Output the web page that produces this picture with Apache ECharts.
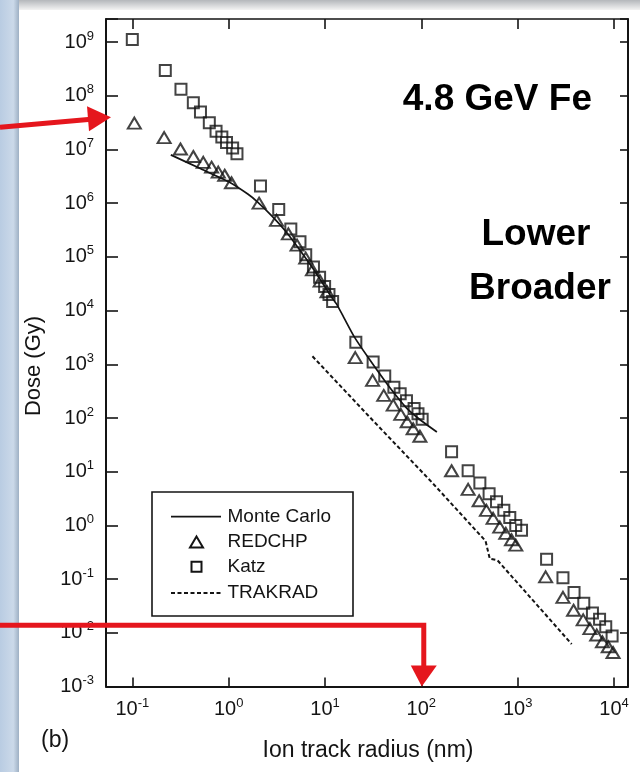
<!DOCTYPE html>
<html>
<head>
<meta charset="utf-8">
<style>
  html, body { margin: 0; padding: 0; background: #fff; }
  #main { width: 640px; height: 772px; }
</style>
<script src="https://cdn.jsdelivr.net/npm/echarts@6/dist/echarts.min.js"></script>
</head>
<body>
<div id="main"></div>
<script>
// 4.8 GeV Fe: radial dose vs ion track radius
// radius in nm, dose in Gy

var katzRadius = [0.10, 0.22, 0.32, 0.43, 0.51, 0.63, 0.74, 0.85, 0.95, 1.10, 1.22,
    2.14, 3.31, 4.42, 5.50, 6.31, 7.59, 8.79, 9.91, 11.0, 12.0,
    20.9, 31.6, 41.7, 51.9, 60.3, 70.1, 84.1, 92.3, 102,
    206, 306, 405, 505, 603, 718, 828, 955, 1096,
    1995, 2951, 3846, 4853, 5970, 7079, 8204, 9550];
var katzDose = [1.12e9, 2.95e8, 1.32e8, 7.4e7, 5.0e7, 3.16e7, 2.19e7, 1.7e7, 1.35e7, 1.07e7, 8.3e6,
    2.09e6, 7.6e5, 3.31e5, 1.91e5, 1.10e5, 6.46e4, 4.17e4, 2.82e4, 2.0e4, 1.48e4,
    2570, 1100, 603, 372, 282, 209, 151, 120, 95,
    23.4, 10.4, 6.17, 3.89, 2.75, 1.91, 1.41, 1.0, 0.81,
    0.234, 0.106, 0.056, 0.0355, 0.0234, 0.0178, 0.0129, 0.0087];

var redchpRadius = [0.105, 0.214, 0.316, 0.43, 0.545, 0.665, 0.78, 0.91, 1.07,
    2.07, 3.14, 4.17, 5.13, 6.31, 7.41, 8.91, 10.5,
    20.6, 31.2, 40.7, 51.1, 61.2, 71.3, 82.2, 96.6,
    206, 306, 398, 474, 556, 652, 753, 863, 955,
    1950, 2951, 3802, 4786, 5623, 6607, 7586, 8710, 9772];
var redchpDose = [3.09e7, 1.66e7, 1.02e7, 7.41e6, 5.75e6, 4.68e6, 3.8e6, 3.31e6, 2.4e6,
    1.0e6, 4.79e5, 2.69e5, 1.66e5, 9.5e4, 5.75e4, 3.55e4, 2.24e4,
    1330, 501, 263, 174, 117, 85, 63, 45.7,
    10.4, 4.68, 2.88, 1.91, 1.35, 0.93, 0.71, 0.54, 0.43,
    0.110, 0.0457, 0.0263, 0.0174, 0.012, 0.0091, 0.0068, 0.0055, 0.0043];

var monteCarloRadius = [0.251, 0.501, 1.0, 1.58, 2.0, 2.82, 3.98, 5.62, 7.94, 11.2, 13.2, 15.8, 20.0, 28.2, 44.7, 70.8, 100, 145];
var monteCarloDose = [7.94e6, 4.47e6, 2.51e6, 1.48e6, 1.05e6, 5.75e5, 2.88e5, 1.26e5, 5.25e4, 2.0e4, 1.32e4, 7240, 3310, 1320, 417, 151, 89, 55];

var trakradRadius = [7.41, 31.6, 126, 464, 513, 617, 1585, 3631];
var trakradDose = [1410, 89, 6.6, 0.513, 0.24, 0.224, 0.0331, 0.00617];

var seriesNames = ['Monte Carlo', 'REDCHP', 'Katz', 'TRAKRAD'];

// axes run in decades (log10)
var xRange = [-1.273, 4.145];
var yRange = [-3, 9.43];
var xTickExp = [-1, 0, 1, 2, 3, 4];
var yTickExp = [-3, -2, -1, 0, 1, 2, 3, 4, 5, 6, 7, 8, 9];

// red annotations on the slide
var arrowDose = 3.98e7;      // left arrow points at the axis here
var guideRadius = 106;       // bent arrow goes down at this radius
var guideDose = 0.0138;      // ... coming in at this dose

var FONT = 'Liberation Sans, Arial, Helvetica, sans-serif';
var INK = '#141414';
var RED = '#e5161d';

function toLog(r, d) {
    return r.map(function (v, i) { return [Math.log10(v), Math.log10(d[i])]; });
}

function powLabel(list) {
    return function (v) {
        var e = Math.round(v);
        if (Math.abs(v - e) > 1e-6 || list.indexOf(e) < 0) return '';
        return '{b|10}{s|' + e + '}';
    };
}

var labelRich = {
    b: { fontSize: 20, lineHeight: 24, fontFamily: FONT, color: INK },
    s: { fontSize: 13, lineHeight: 12, padding: [0, 0, 12, 0], fontFamily: FONT, color: INK }
};

function axisBase(extra) {
    var a = {
        type: 'value',
        axisLine: { show: true, onZero: false, lineStyle: { color: INK, width: 2 } },
        axisTick: { show: true, inside: true, length: 10, lineStyle: { color: INK, width: 1.6 } },
        splitLine: { show: false }
    };
    return Object.assign(a, extra);
}

var chart = echarts.init(document.getElementById('main'));

var option = {
    animation: false,
    backgroundColor: '#ffffff',
    grid: { left: 106, top: 19, width: 522, height: 667.5, containLabel: false },
    xAxis: [
        axisBase({
            position: 'bottom', min: xRange[0], max: xRange[1], splitNumber: 5,
            axisTick: { show: true, inside: true, length: 9, lineStyle: { color: INK, width: 1.6 } },
            axisLabel: { margin: 11, formatter: powLabel(xTickExp), rich: labelRich }
        }),
        axisBase({
            position: 'top', min: xRange[0], max: xRange[1], splitNumber: 5,
            axisLine: { show: true, onZero: false, lineStyle: { color: INK, width: 1.6 } },
            axisLabel: { show: false }
        })
    ],
    yAxis: [
        axisBase({
            position: 'left', min: yRange[0], max: yRange[1], splitNumber: 12,
            axisTick: { show: true, inside: true, length: 12, lineStyle: { color: INK, width: 1.6 } },
            axisLabel: { margin: 12, formatter: powLabel(yTickExp), rich: labelRich }
        }),
        axisBase({
            position: 'right', min: yRange[0], max: yRange[1], splitNumber: 12,
            axisTick: { show: true, inside: true, length: 8, lineStyle: { color: INK, width: 1.6 } },
            axisLabel: { show: false }
        })
    ],
    legend: { show: false },
    series: [
        {
            name: seriesNames[0], type: 'line', data: toLog(monteCarloRadius, monteCarloDose),
            symbol: 'none', smooth: 0.2, z: 3,
            lineStyle: { color: INK, width: 1.7 }, itemStyle: { color: INK }
        },
        {
            name: seriesNames[1], type: 'scatter', data: toLog(redchpRadius, redchpDose),
            symbol: 'triangle', symbolSize: [13, 11], z: 4,
            itemStyle: { color: 'rgba(255,255,255,0)', borderColor: INK, borderWidth: 2 }
        },
        {
            name: seriesNames[2], type: 'scatter', data: toLog(katzRadius, katzDose),
            symbol: 'rect', symbolSize: 11, z: 4,
            itemStyle: { color: 'rgba(255,255,255,0)', borderColor: INK, borderWidth: 2 }
        },
        {
            name: seriesNames[3], type: 'line', data: toLog(trakradRadius, trakradDose),
            symbol: 'none', z: 3,
            lineStyle: { color: INK, width: 2, type: [4, 2.5] }, itemStyle: { color: INK }
        }
    ]
};

chart.setOption(option);

// slide decorations, texts, legend box and red arrows
var tip = chart.convertToPixel({ xAxisIndex: 0, yAxisIndex: 0 }, [xRange[0], Math.log10(arrowDose)]);
var corner = chart.convertToPixel({ xAxisIndex: 0, yAxisIndex: 0 }, [Math.log10(guideRadius), Math.log10(guideDose)]);
var axisBottom = chart.convertToPixel({ yAxisIndex: 0 }, yRange[0]);
var tipX = tip[0] + 5, tipY = tip[1];

// legend box (drawn by hand so the icons keep their shapes)
var lgX = 152, lgY = 492, lgW = 201, lgH = 124;
var rowY = [24.7, 50, 74.7, 101];
var iconX0 = 19, iconX1 = 69, textX = 75.5;
var legendKids = [
    { type: 'rect', shape: { x: 0, y: 0, width: lgW, height: lgH },
      style: { fill: '#fff', stroke: INK, lineWidth: 1.6 } },
    { type: 'line', shape: { x1: iconX0, y1: rowY[0], x2: iconX1, y2: rowY[0] },
      style: { stroke: INK, lineWidth: 1.7 } },
    { type: 'polygon', shape: { points: [[44.5, rowY[1] - 5.5], [51, rowY[1] + 5.5], [38, rowY[1] + 5.5]] },
      style: { fill: null, stroke: INK, lineWidth: 2 } },
    { type: 'rect', shape: { x: 39.5, y: rowY[2] - 5, width: 10, height: 10 },
      style: { fill: null, stroke: INK, lineWidth: 2 } },
    { type: 'line', shape: { x1: iconX0, y1: rowY[3], x2: iconX1, y2: rowY[3] },
      style: { stroke: INK, lineWidth: 2, lineDash: [4, 2.5] } }
];
seriesNames.forEach(function (n, i) {
    legendKids.push({ type: 'text',
        style: { text: n, x: textX, y: rowY[i], align: 'left', verticalAlign: 'middle',
                 font: '19px ' + FONT, fill: INK } });
});

chart.setOption({
    graphic: [
        {
            type: 'rect', z: -10, silent: true,
            shape: { x: 0, y: 0, width: 640, height: 10 },
            style: { fill: new echarts.graphic.LinearGradient(0, 0, 0, 1, [
                { offset: 0, color: '#b4b7bb' }, { offset: 1, color: '#f3f3f3' }]) }
        },
        {
            type: 'rect', z: -9, silent: true,
            shape: { x: 0, y: 0, width: 19, height: 772 },
            style: { fill: new echarts.graphic.LinearGradient(0, 0, 1, 0, [
                { offset: 0, color: '#b9cce2' }, { offset: 0.7, color: '#cbd9e9' }, { offset: 1, color: '#9eb0c4' }]) }
        },
        { type: 'group', x: lgX, y: lgY, z: 10, silent: true, children: legendKids },
        {
            type: 'text', silent: true,
            style: { text: '4.8 GeV Fe', x: 592, y: 100, align: 'right', verticalAlign: 'middle',
                font: 'bold 37px ' + FONT, fill: '#000' }
        },
        {
            type: 'text', silent: true,
            style: { text: 'Lower', x: 536, y: 235, align: 'center', verticalAlign: 'middle',
                font: 'bold 37px ' + FONT, fill: '#000' }
        },
        {
            type: 'text', silent: true,
            style: { text: 'Broader', x: 540, y: 289, align: 'center', verticalAlign: 'middle',
                font: 'bold 37px ' + FONT, fill: '#000' }
        },
        {
            type: 'text', silent: true, x: 34, y: 366, rotation: Math.PI / 2,
            style: { text: 'Dose (Gy)', x: 0, y: 0, align: 'center', verticalAlign: 'middle',
                font: '22px ' + FONT, fill: INK }
        },
        {
            type: 'text', silent: true,
            style: { text: 'Ion track radius (nm)', x: 368, y: 751, align: 'center', verticalAlign: 'middle',
                font: '23px ' + FONT, fill: INK }
        },
        {
            type: 'text', silent: true,
            style: { text: '(b)', x: 41, y: 741, align: 'left', verticalAlign: 'middle',
                font: '23px ' + FONT, fill: INK }
        },
        // left arrow
        {
            type: 'line', z: 20, silent: true,
            shape: { x1: 0, y1: tipY + 10, x2: tipX - 20, y2: tipY + 2 },
            style: { stroke: RED, lineWidth: 5 }
        },
        {
            type: 'polygon', z: 20, silent: true,
            shape: { points: [[tipX, tipY], [tipX - 24, tipY - 11], [tipX - 22, tipY + 14]] },
            style: { fill: RED }
        },
        // bent arrow down to the x axis
        {
            type: 'polyline', z: 20, silent: true,
            shape: { points: [[0, corner[1]], [corner[0], corner[1]], [corner[0], axisBottom - 18]] },
            style: { stroke: RED, lineWidth: 5, fill: null, lineJoin: 'miter' }
        },
        {
            type: 'polygon', z: 20, silent: true,
            shape: { points: [[corner[0] - 13, axisBottom - 21], [corner[0] + 13, axisBottom - 21], [corner[0] - 2, axisBottom]] },
            style: { fill: RED }
        }
    ]
});
</script>
</body>
</html>
